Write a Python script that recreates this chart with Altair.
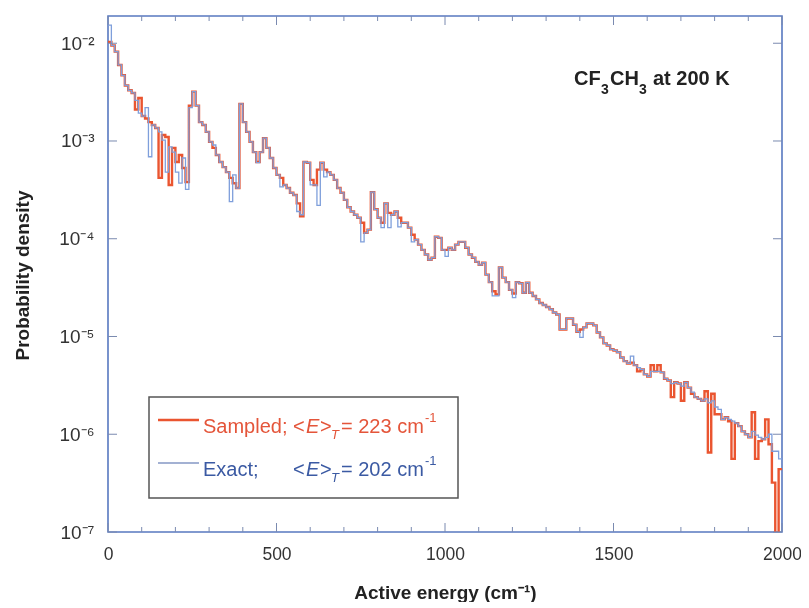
import altair as alt
import pandas as pd

FONT = "Liberation Sans"
RED = "#ea5530"
BLUE = "#7f9fdb"
RED_TXT = "#e4553a"
BLUE_TXT = "#3b5aa3"

# bin left edges (cm^-1), 10 cm^-1 bins
bin_width = 10
n_bins = 200

sampled = [
    1.03e-2, 9.5e-3, 8.2e-3, 6.0e-3, 4.7e-3, 3.7e-3, 3.3e-3, 3.1e-3, 2.1e-3, 2.75e-3,
    1.8e-3, 1.7e-3, 1.56e-3, 1.46e-3, 1.36e-3, 4.2e-4, 1.15e-3, 1.10e-3, 3.55e-4, 8.5e-4,
    6.1e-4, 7.2e-4, 5.3e-4, 3.8e-4, 2.3e-3, 3.2e-3, 2.3e-3, 1.56e-3, 1.46e-3, 1.24e-3,
    9.8e-4, 8.5e-4, 7.2e-4, 6.1e-4, 5.4e-4, 4.8e-4, 4.2e-4, 3.7e-4, 3.3e-4, 2.4e-3,
    1.56e-3, 1.24e-3, 9.8e-4, 7.7e-4, 6.1e-4, 7.7e-4, 1.07e-3, 8.5e-4, 6.7e-4, 5.3e-4,
    4.5e-4, 4.2e-4, 3.55e-4, 3.3e-4, 2.95e-4, 2.8e-4, 2.3e-4, 1.7e-4, 6.1e-4, 6.0e-4,
    4.0e-4, 3.55e-4, 5.1e-4, 6.0e-4, 5.1e-4, 4.8e-4, 4.5e-4, 4.0e-4, 3.3e-4, 2.95e-4,
    2.5e-4, 2.1e-4, 1.9e-4, 1.76e-4, 1.64e-4, 1.46e-4, 1.15e-4, 1.24e-4, 3.0e-4, 2.0e-4,
    1.64e-4, 1.46e-4, 2.3e-4, 1.84e-4, 1.76e-4, 1.9e-4, 1.64e-4, 1.46e-4, 1.46e-4, 1.3e-4,
    1.1e-4, 9.8e-5, 8.7e-5, 7.7e-5, 6.9e-5, 6.1e-5, 6.4e-5, 1.05e-4, 1.02e-4, 7.7e-5,
    7.7e-5, 8.1e-5, 7.7e-5, 8.7e-5, 9.3e-5, 9.3e-5, 8.1e-5, 6.9e-5, 6.4e-5, 5.8e-5,
    5.4e-5, 5.7e-5, 4.3e-5, 3.6e-5, 2.9e-5, 2.7e-5, 5.1e-5, 4.0e-5, 3.6e-5, 3.0e-5,
    2.75e-5, 3.6e-5, 3.5e-5, 2.8e-5, 3.55e-5, 2.8e-5, 2.6e-5, 2.4e-5, 2.2e-5, 2.1e-5,
    2.0e-5, 1.9e-5, 1.76e-5, 1.68e-5, 1.18e-5, 1.18e-5, 1.53e-5, 1.53e-5, 1.32e-5, 1.12e-5,
    1.18e-5, 1.24e-5, 1.36e-5, 1.36e-5, 1.3e-5, 1.1e-5, 9.8e-6, 8.5e-6, 8.1e-6, 7.4e-6,
    7.2e-6, 6.9e-6, 6.1e-6, 5.6e-6, 5.3e-6, 5.4e-6, 5.1e-6, 4.4e-6, 4.6e-6, 4.1e-6,
    3.9e-6, 5.1e-6, 4.4e-6, 5.1e-6, 4.3e-6, 3.7e-6, 3.55e-6, 2.4e-6, 3.4e-6, 3.3e-6,
    2.2e-6, 3.4e-6, 3.0e-6, 2.6e-6, 2.4e-6, 2.3e-6, 2.2e-6, 2.75e-6, 6.5e-7, 2.6e-6,
    1.6e-6, 1.6e-6, 1.42e-6, 1.49e-6, 1.36e-6, 5.6e-7, 1.3e-6, 1.21e-6, 1.07e-6, 1.0e-6,
    9.3e-7, 1.68e-6, 5.6e-7, 8.5e-7, 8.9e-7, 1.42e-6, 7.9e-7, 3.2e-7, 8e-8, 4.4e-7,
]

exact = [
    1.53e-2, 9.5e-3, 8.2e-3, 6.0e-3, 4.7e-3, 3.7e-3, 3.3e-3, 3.1e-3, 2.6e-3, 1.93e-3,
    1.8e-3, 2.2e-3, 6.9e-4, 1.46e-3, 1.36e-3, 1.24e-3, 1.02e-3, 4.8e-4, 8.7e-4, 7.7e-4,
    4.8e-4, 3.7e-4, 6.7e-4, 3.2e-4, 2.2e-3, 3.2e-3, 2.3e-3, 1.56e-3, 1.46e-3, 1.24e-3,
    9.8e-4, 9.1e-4, 7.2e-4, 6.1e-4, 5.4e-4, 4.8e-4, 2.4e-4, 4.5e-4, 3.3e-4, 2.4e-3,
    1.56e-3, 1.24e-3, 9.8e-4, 7.7e-4, 6.0e-4, 7.7e-4, 1.07e-3, 8.5e-4, 6.7e-4, 5.3e-4,
    4.5e-4, 3.4e-4, 3.55e-4, 3.3e-4, 2.95e-4, 2.8e-4, 1.9e-4, 1.76e-4, 6.1e-4, 6.0e-4,
    3.55e-4, 3.55e-4, 2.2e-4, 6.0e-4, 4.3e-4, 4.8e-4, 4.5e-4, 4.0e-4, 3.3e-4, 2.95e-4,
    2.5e-4, 2.1e-4, 1.9e-4, 1.76e-4, 1.64e-4, 9.3e-5, 1.15e-4, 1.24e-4, 3.0e-4, 2.0e-4,
    1.64e-4, 1.3e-4, 2.3e-4, 1.3e-4, 1.76e-4, 1.9e-4, 1.32e-4, 1.46e-4, 1.46e-4, 1.3e-4,
    9.3e-5, 9.8e-5, 8.7e-5, 7.7e-5, 6.9e-5, 6.1e-5, 6.4e-5, 1.05e-4, 1.02e-4, 7.7e-5,
    6.6e-5, 8.1e-5, 7.7e-5, 8.7e-5, 9.3e-5, 9.3e-5, 8.1e-5, 6.9e-5, 6.4e-5, 5.8e-5,
    5.4e-5, 5.7e-5, 4.3e-5, 3.6e-5, 2.6e-5, 2.6e-5, 5.1e-5, 4.0e-5, 3.6e-5, 3.0e-5,
    2.5e-5, 3.6e-5, 3.5e-5, 2.8e-5, 3.55e-5, 2.8e-5, 2.6e-5, 2.4e-5, 2.2e-5, 2.1e-5,
    2.0e-5, 1.9e-5, 1.76e-5, 1.68e-5, 1.18e-5, 1.18e-5, 1.53e-5, 1.53e-5, 1.32e-5, 1.12e-5,
    9.8e-6, 1.24e-5, 1.36e-5, 1.36e-5, 1.3e-5, 1.1e-5, 9.8e-6, 8.5e-6, 8.1e-6, 7.4e-6,
    7.2e-6, 6.9e-6, 6.1e-6, 5.6e-6, 5.3e-6, 6.3e-6, 5.1e-6, 4.8e-6, 4.6e-6, 4.1e-6,
    3.9e-6, 4.4e-6, 4.4e-6, 4.4e-6, 4.3e-6, 3.7e-6, 3.55e-6, 3.3e-6, 3.4e-6, 3.3e-6,
    3.1e-6, 3.4e-6, 3.0e-6, 2.7e-6, 2.4e-6, 2.3e-6, 2.2e-6, 2.3e-6, 2.1e-6, 2.2e-6,
    1.9e-6, 1.8e-6, 1.42e-6, 1.49e-6, 1.42e-6, 1.36e-6, 1.3e-6, 1.21e-6, 1.07e-6, 1.0e-6,
    9.3e-7, 1.07e-6, 9.8e-7, 9.3e-7, 8.9e-7, 9.3e-7, 1.0e-6, 6.7e-7, 6.7e-7, 5.6e-7,
]

x_major = [0, 500, 1000, 1500, 2000]
x_minor = [100, 200, 300, 400, 600, 700, 800, 900, 1100, 1200, 1300, 1400,
           1600, 1700, 1800, 1900]
y_decades = [1e-7, 1e-6, 1e-5, 1e-4, 1e-3, 1e-2]

W, H = 674, 516

edges = [i * bin_width for i in range(n_bins)] + [n_bins * bin_width]
df_s = pd.DataFrame({"energy": edges, "density": sampled + [sampled[-1]]})
df_e = pd.DataFrame({"energy": edges, "density": exact + [exact[-1]]})

xscale = alt.Scale(domain=[0, 2000], nice=False, zero=False)
yscale = alt.Scale(type="log", domain=[1e-7, 1.9e-2], nice=False)

XT = "Active energy (cm\u207b\u00b9)"
YT = "Probability density"

xaxis = alt.Axis(values=x_major, ticks=False, domain=False, grid=False,
                 labelFont=FONT, labelFontSize=17.5, labelColor="#333",
                 labelPadding=13, labelFlush=False, labelOverlap=False, format="d",
                 titleFont=FONT, titleFontSize=19, titleFontWeight="bold",
                 titleColor="#222", titleY=60, titleBaseline="middle")
yaxis = alt.Axis(values=y_decades, ticks=False, domain=False, grid=False,
                 labelFont=FONT, labelFontSize=19, labelColor="#333",
                 labelPadding=14, labelOverlap=False,
                 labelExpr="'10\u207b' + ['\u2070','\u00b9','\u00b2','\u00b3','\u2074','\u2075','\u2076','\u2077'][round(-log(datum.value)/LN10)]",
                 titleFont=FONT, titleFontSize=19, titleFontWeight="bold",
                 titleColor="#222", titleX=-86, titleY=259,
                 titleBaseline="middle", titleAlign="center")

red_line = alt.Chart(df_s).mark_line(
    interpolate="step-after", color=RED, strokeWidth=2.4, clip=True
).encode(
    x=alt.X("energy:Q", scale=xscale, axis=xaxis, title=XT),
    y=alt.Y("density:Q", scale=yscale, axis=yaxis, title=YT),
)
blue_line = alt.Chart(df_e).mark_line(
    interpolate="step-after", color=BLUE, strokeWidth=1.3, clip=True, blend="multiply"
).encode(
    x=alt.X("energy:Q", scale=xscale, title=XT),
    y=alt.Y("density:Q", scale=yscale, title=YT),
)

TICK = "#7a8ab0"
def xticks(vals, length):
    d = pd.DataFrame({"e": vals})
    bot = alt.Chart(d).mark_rule(color=TICK, strokeWidth=1).encode(
        x=alt.X("e:Q", scale=xscale, title=XT),
        y=alt.value(H), y2=alt.value(H - length))
    top = alt.Chart(d).mark_rule(color=TICK, strokeWidth=1).encode(
        x=alt.X("e:Q", scale=xscale, title=XT),
        y=alt.value(0), y2=alt.value(length))
    return [bot, top]

dy = pd.DataFrame({"v": y_decades})
yt_left = alt.Chart(dy).mark_rule(color=TICK, strokeWidth=1).encode(
    y=alt.Y("v:Q", scale=yscale, title=YT),
    x=alt.value(0), x2=alt.value(9))
yt_right = alt.Chart(dy).mark_rule(color=TICK, strokeWidth=1).encode(
    y=alt.Y("v:Q", scale=yscale, title=YT),
    x=alt.value(W - 9), x2=alt.value(W))

one = pd.DataFrame({"a": [0]})

def txt(s, x, y, size=20, color="#222", style="normal", weight="normal"):
    return alt.Chart(one).mark_text(
        text=s, align="left", baseline="middle", font=FONT, fontSize=size,
        fontStyle=style, fontWeight=weight, color=color
    ).encode(x=alt.value(x), y=alt.value(y))

legend_box = alt.Chart(one).mark_rect(
    fill="white", stroke="#555", strokeWidth=1.5
).encode(x=alt.value(41), x2=alt.value(350), y=alt.value(381), y2=alt.value(482))
leg_red = alt.Chart(one).mark_rule(color=RED, strokeWidth=2.4).encode(
    x=alt.value(50), x2=alt.value(91), y=alt.value(404))
leg_blue = alt.Chart(one).mark_rule(color="#8497c4", strokeWidth=1.5).encode(
    x=alt.value(50), x2=alt.value(91), y=alt.value(447))

ry, by = 411, 454
legend_text = [
    txt("Sampled; <", 95, ry, color=RED_TXT),
    txt("E", 198, ry, color=RED_TXT, style="italic"),
    txt(">", 212, ry, color=RED_TXT),
    txt("T", 223, ry + 8, size=13, color=RED_TXT, style="italic"),
    txt("= 223 cm", 233, ry, color=RED_TXT),
    txt("-1", 317, ry - 9, size=13, color=RED_TXT),
    txt("Exact;", 95, by, color=BLUE_TXT),
    txt("<", 185, by, color=BLUE_TXT),
    txt("E", 198, by, color=BLUE_TXT, style="italic"),
    txt(">", 212, by, color=BLUE_TXT),
    txt("T", 223, by + 8, size=13, color=BLUE_TXT, style="italic"),
    txt("= 202 cm", 233, by, color=BLUE_TXT),
    txt("-1", 317, by - 9, size=13, color=BLUE_TXT),
]

ann = [
    txt("CF", 466, 63, weight="bold"),
    txt("3", 493, 74, size=14, weight="bold"),
    txt("CH", 502, 63, weight="bold"),
    txt("3", 531, 74, size=14, weight="bold"),
    txt("at 200 K", 545, 63, weight="bold"),
]

layers = [red_line, blue_line] + xticks(x_major, 9) + xticks(x_minor, 5) + \
    [yt_left, yt_right, legend_box, leg_red, leg_blue] + legend_text + ann

chart = alt.layer(*layers).properties(
    width=W, height=H,
    padding={"left": 100, "top": 8, "right": 19, "bottom": 70},
    autosize="none",
).configure_view(stroke="#5878c0", strokeWidth=1.6)

chart.save("out.html", embed_options={"renderer": "svg", "actions": False})
